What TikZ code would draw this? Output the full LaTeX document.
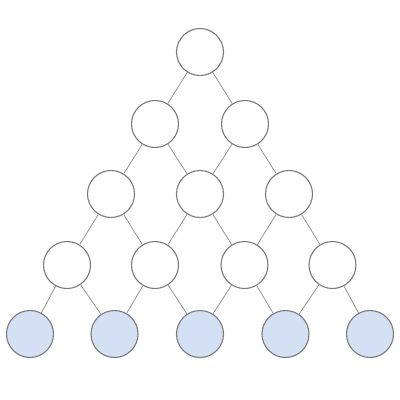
\documentclass[tikz,border=0pt]{standalone}
\begin{document}
\begin{tikzpicture}[x=1pt,y=-1pt,
  nd/.style={circle,draw=black!52,line width=1.1pt,minimum size=47pt,inner sep=0pt,fill=white},
  leaf/.style={nd,fill=leafblue},
  edge/.style={draw=black!42,line width=0.8pt}]
\definecolor{leafblue}{HTML}{D4E1F4}
\useasboundingbox (0,0) rectangle (400,400);
\node[nd] (a) at (200,52) {};
\node[nd] (b1) at (155,124) {};
\node[nd] (b2) at (245,124) {};
\node[nd] (c1) at (111,194) {};
\node[nd] (c2) at (200,194) {};
\node[nd] (c3) at (289,194) {};
\node[nd] (d1) at (67,265) {};
\node[nd] (d2) at (155,265) {};
\node[nd] (d3) at (244.5,265) {};
\node[nd] (d4) at (332.5,265) {};
\node[leaf] (e1) at (30,334) {};
\node[leaf] (e2) at (114.5,334) {};
\node[leaf] (e3) at (200,334) {};
\node[leaf] (e4) at (285.5,334) {};
\node[leaf] (e5) at (370,334) {};
\foreach \u/\v in {a/b1,a/b2,b1/c1,b1/c2,b2/c2,b2/c3,c1/d1,c1/d2,c2/d2,c2/d3,c3/d3,c3/d4,d1/e1,d1/e2,d2/e2,d2/e3,d3/e3,d3/e4,d4/e4,d4/e5}
  \draw[edge] (\u) -- (\v);
\end{tikzpicture}
\end{document}
